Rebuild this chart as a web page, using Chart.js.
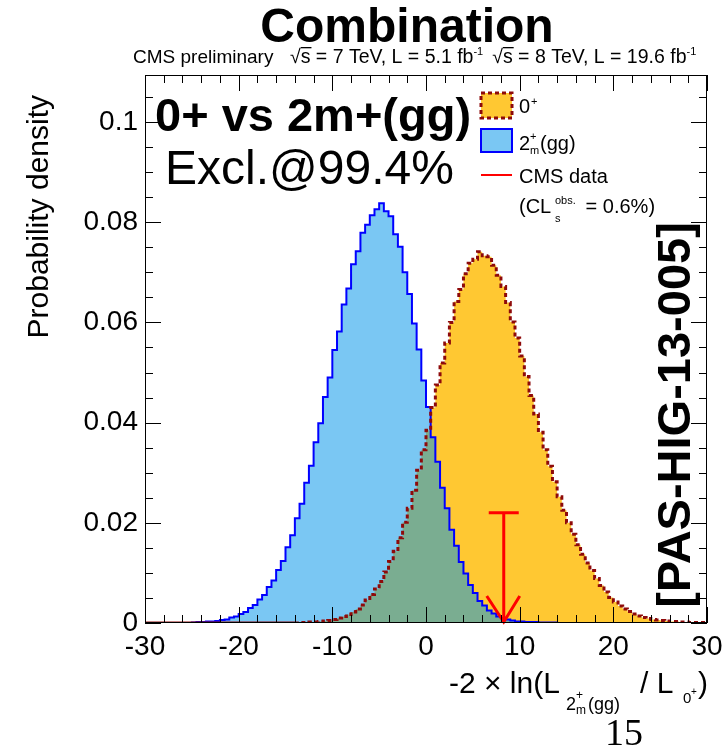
<!DOCTYPE html>
<html>
<head>
<meta charset="utf-8">
<script src="https://cdn.jsdelivr.net/npm/chart.js@4.4.1/dist/chart.umd.min.js"></script>
<style>
  html, body { margin: 0; padding: 0; background: #fff; }
</style>
</head>
<body>
<canvas id="chart" width="722" height="748"></canvas>
<script>
// histogram binning: 120 bins of 0.5 from -30 to 30
const binStart = -30;
const binWidth = 0.5;

// 0+ hypothesis pseudo-experiments (probability density per bin)
const spin0Density = [
  0, 0, 0, 0, 0, 0, 0, 0, 0, 0,
  0, 0, 0, 0, 0, 0, 0, 0, 0, 0,
  0, 0, 0, 0, 0, 0, 0, 0, 0, 0,
  0, 0, 0, 0.0001, 0.0001, 0.0002, 0.0002, 0.0003, 0.0004, 0.0005,
  0.0007, 0.0010, 0.0013, 0.0017, 0.0022, 0.0028, 0.0036, 0.0046, 0.0057, 0.0068,
  0.0083, 0.0102, 0.0123, 0.0143, 0.0170, 0.0201, 0.0229, 0.0265, 0.0305, 0.0346,
  0.0385, 0.0430, 0.0475, 0.0519, 0.0559, 0.0600, 0.0642, 0.0666, 0.0697, 0.0718,
  0.0726, 0.0741, 0.0733, 0.0731, 0.0714, 0.0694, 0.0672, 0.0640, 0.0601, 0.0569,
  0.0533, 0.0492, 0.0454, 0.0417, 0.0381, 0.0346, 0.0313, 0.0282, 0.0252, 0.0225,
  0.0200, 0.0177, 0.0156, 0.0137, 0.0120, 0.0105, 0.0089, 0.0075, 0.0062, 0.0051,
  0.0042, 0.0034, 0.0028, 0.0023, 0.0018, 0.0014, 0.0011, 0.0009, 0.0007, 0.0006,
  0.0005, 0.0004, 0.0003, 0.0003, 0.0002, 0.0002, 0.0001, 0.0001, 0.0001, 0.0001
];

// 2m+(gg) hypothesis pseudo-experiments
const spin2Density = [
  0, 0, 0, 0, 0, 0, 0, 0, 0, 0,
  0.0001, 0.0002, 0.0002, 0.0003, 0.0003, 0.0004, 0.0006, 0.0007, 0.0011, 0.0013,
  0.0018, 0.0022, 0.0030, 0.0036, 0.0047, 0.0056, 0.0072, 0.0085, 0.0106, 0.0124,
  0.0151, 0.0175, 0.0209, 0.0238, 0.0280, 0.0314, 0.0361, 0.0399, 0.0451, 0.0490,
  0.0545, 0.0582, 0.0636, 0.0668, 0.0716, 0.0742, 0.0779, 0.0795, 0.0814, 0.0826,
  0.0838, 0.0822, 0.0812, 0.0776, 0.0751, 0.0700, 0.0657, 0.0598, 0.0546, 0.0484,
  0.0431, 0.0371, 0.0322, 0.0270, 0.0229, 0.0186, 0.0154, 0.0122, 0.0099, 0.0076,
  0.0060, 0.0044, 0.0035, 0.0025, 0.0019, 0.0013, 0.0010, 0.0007, 0.0005, 0.0003,
  0.0003, 0.0002, 0.0002, 0.0002, 0.0001, 0.0001, 0.0001, 0.0001, 0, 0,
  0, 0, 0, 0, 0, 0, 0, 0, 0, 0,
  0, 0, 0, 0, 0, 0, 0, 0, 0, 0,
  0, 0, 0, 0, 0, 0, 0, 0, 0, 0
];

const xMin = -30, xMax = 30;
const yMax = 0.1094;
const observedValue = 8.3;     // CMS data
const observedBarTop = 0.022;

const FONT = "'Liberation Sans', Arial, Helvetica, sans-serif";
const ORANGE = '#ffc832';
const DARKRED = '#8e0a0a';
const BLUEFILL = 'rgba(0, 148, 232, 0.52)';

function histPoints(values) {
  const pts = [{ x: binStart, y: 0 }];
  values.forEach((v, i) => pts.push({ x: binStart + i * binWidth, y: v }));
  pts.push({ x: binStart + values.length * binWidth, y: 0 });
  return pts;
}

function txt(ctx, s, x, y, size, opts = {}) {
  ctx.font = (opts.bold ? 'bold ' : '') + size + 'px ' + (opts.family || FONT);
  ctx.textAlign = opts.align || 'left';
  ctx.textBaseline = 'alphabetic';
  ctx.fillText(s, x, y);
  return ctx.measureText(s).width;
}

const rootDecor = {
  id: 'rootDecor',
  afterDatasetsDraw(chart) {
    const { ctx, chartArea: a, scales: { x, y } } = chart;
    ctx.save();
    // observed value: red line with bar and arrow
    const ox = x.getPixelForValue(observedValue);
    const oy = y.getPixelForValue(observedBarTop);
    const y0 = y.getPixelForValue(0);
    ctx.strokeStyle = '#ff0000';
    ctx.lineWidth = 3;
    ctx.beginPath();
    ctx.moveTo(ox, oy); ctx.lineTo(ox, y0);
    ctx.moveTo(ox - 15, oy); ctx.lineTo(ox + 15, oy);
    ctx.moveTo(ox - 17, y0 - 27); ctx.lineTo(ox, y0 - 1); ctx.lineTo(ox + 16, y0 - 27);
    ctx.stroke();

    // frame and inner ticks
    ctx.strokeStyle = '#000';
    ctx.lineWidth = 1;
    ctx.beginPath();
    for (let v = xMin; v <= xMax; v += 2) {
      const px = Math.round(x.getPixelForValue(v)) + 0.5;
      const len = v % 10 === 0 ? 16 : 8;
      ctx.moveTo(px, a.bottom); ctx.lineTo(px, a.bottom - len);
      ctx.moveTo(px, a.top); ctx.lineTo(px, a.top + len);
    }
    for (let k = 0; k * 0.005 <= yMax; k++) {
      const py = Math.round(y.getPixelForValue(k * 0.005)) + 0.5;
      const len = k % 4 === 0 ? 16 : 8;
      ctx.moveTo(a.left, py); ctx.lineTo(a.left + len, py);
      ctx.moveTo(a.right, py); ctx.lineTo(a.right - len, py);
    }
    ctx.stroke();
    ctx.strokeRect(a.left + 0.5, a.top + 0.5, a.width - 1, a.height - 1);
    ctx.restore();
  },
  afterDraw(chart) {
    const { ctx } = chart;
    ctx.save();
    ctx.fillStyle = '#000';

    // title and header
    txt(ctx, 'Combination', 407, 42, 48, { bold: true, align: 'center' });
    txt(ctx, 'CMS preliminary', 133, 63, 19);
    let cx = 290;
    const header = [['7', '5.1'], ['8', '19.6']];
    header.forEach(([e, l], k) => {
      if (k) cx += 9;
      cx += txt(ctx, '\u221A', cx, 63, 19.5);
      const sw = txt(ctx, 's', cx, 63, 19.5);
      ctx.fillRect(cx, 47, sw + 1, 1.3);
      cx += sw;
      cx += txt(ctx, ' = ' + e + ' TeV, L = ' + l + ' fb', cx, 63, 19.5);
      cx += txt(ctx, '-1', cx, 55, 11);
    });

    // labels inside the frame
    txt(ctx, '0+ vs 2m+(gg)', 155, 131, 47, { bold: true });
    txt(ctx, 'Excl.@99.4%', 165, 184, 48);

    // legend
    ctx.fillStyle = ORANGE;
    ctx.fillRect(481, 93, 31, 25);
    ctx.strokeStyle = DARKRED; ctx.lineWidth = 3; ctx.setLineDash([4, 3]);
    ctx.strokeRect(481, 93, 31, 25);
    ctx.setLineDash([]);
    ctx.fillStyle = BLUEFILL;
    ctx.fillRect(481, 129, 31, 23);
    ctx.strokeStyle = '#0000ff'; ctx.lineWidth = 2;
    ctx.strokeRect(481, 129, 31, 23);
    ctx.strokeStyle = '#ff0000';
    ctx.beginPath(); ctx.moveTo(481, 175); ctx.lineTo(512, 175); ctx.stroke();

    ctx.fillStyle = '#000';
    txt(ctx, '0', 519, 113, 20);
    txt(ctx, '+', 531, 105, 11);
    txt(ctx, '2', 519, 150, 20);
    txt(ctx, '+', 530, 140, 11);
    txt(ctx, 'm', 530, 154, 11);
    txt(ctx, '(gg)', 540, 150, 20);
    txt(ctx, 'CMS data', 519, 183, 20);
    txt(ctx, '(CL', 519, 213, 20);
    txt(ctx, 'obs.', 555, 204, 11);
    txt(ctx, 's', 555, 222, 11);
    txt(ctx, ' = 0.6%)', 580, 213, 20);

    // reference tag, rotated
    ctx.save();
    ctx.translate(690, 415);
    ctx.rotate(-Math.PI / 2);
    txt(ctx, '[PAS-HIG-13-005]', 0, 0, 47, { bold: true, align: 'center' });
    ctx.restore();

    // y axis title
    ctx.save();
    ctx.translate(48, 95);
    ctx.rotate(-Math.PI / 2);
    txt(ctx, 'Probability density', 0, 0, 30, { align: 'right' });
    ctx.restore();

    // x axis title
    txt(ctx, '-2 \u00D7 ln(L', 449, 693, 30);
    txt(ctx, '2', 566, 710, 18);
    txt(ctx, '+', 576, 699, 12);
    txt(ctx, 'm', 576, 714, 12);
    txt(ctx, '(gg)', 588, 710, 18);
    txt(ctx, '/ L', 640, 693, 30);
    txt(ctx, '0', 683, 703, 15);
    txt(ctx, '+', 691, 695, 10);
    txt(ctx, ')', 698, 693, 30);

    // page number
    txt(ctx, '15', 605, 745, 38, { family: "'Liberation Serif', 'DejaVu Serif', serif" });
    ctx.restore();
  }
};

// keep the flat zero parts of the 0+ outline solid, as in the original
const zeroSolid = c => (c.p0.parsed.y === 0 && c.p1.parsed.y === 0) ? [] : [4, 3];

new Chart(document.getElementById('chart'), {
  type: 'line',
  data: {
    datasets: [
      {
        label: '0+ outline',
        data: histPoints(spin0Density),
        stepped: 'before',
        fill: false,
        borderColor: DARKRED,
        borderWidth: 3,
        borderDash: [4, 3],
        segment: { borderDash: zeroSolid },
        pointRadius: 0,
        order: 0
      },
      {
        label: '2m+(gg)',
        data: histPoints(spin2Density),
        stepped: 'before',
        fill: 'origin',
        backgroundColor: BLUEFILL,
        borderColor: '#0000ff',
        borderWidth: 2,
        pointRadius: 0,
        order: 1
      },
      {
        label: '0+',
        data: histPoints(spin0Density),
        stepped: 'before',
        fill: 'origin',
        backgroundColor: ORANGE,
        borderColor: 'rgba(0,0,0,0)',
        borderWidth: 1,
        pointRadius: 0,
        order: 2
      }
    ]
  },
  options: {
    responsive: false,
    animation: false,
    layout: { padding: { top: 75, right: 15, left: 0, bottom: 0 } },
    plugins: { legend: { display: false }, tooltip: { enabled: false } },
    scales: {
      x: {
        type: 'linear',
        min: xMin,
        max: xMax,
        grid: { display: false, drawTicks: false },
        border: { display: false },
        ticks: {
          stepSize: 10,
          padding: 7,
          color: '#000',
          maxRotation: 0,
          autoSkip: false,
          font: { family: FONT, size: 28 },
          callback: v => String(v)
        },
        afterFit: s => { s.height = 125; s.paddingLeft = 0; s.paddingRight = 0; }
      },
      y: {
        min: 0,
        max: yMax,
        grid: { display: false, drawTicks: false },
        border: { display: false },
        ticks: {
          stepSize: 0.02,
          includeBounds: false,
          padding: 7,
          color: '#000',
          font: { family: FONT, size: 28 },
          callback: v => String(Number(v.toFixed(3)))
        },
        afterFit: s => { s.width = 145; s.paddingTop = 0; s.paddingBottom = 0; }
      }
    }
  },
  plugins: [rootDecor]
});
</script>
</body>
</html>
